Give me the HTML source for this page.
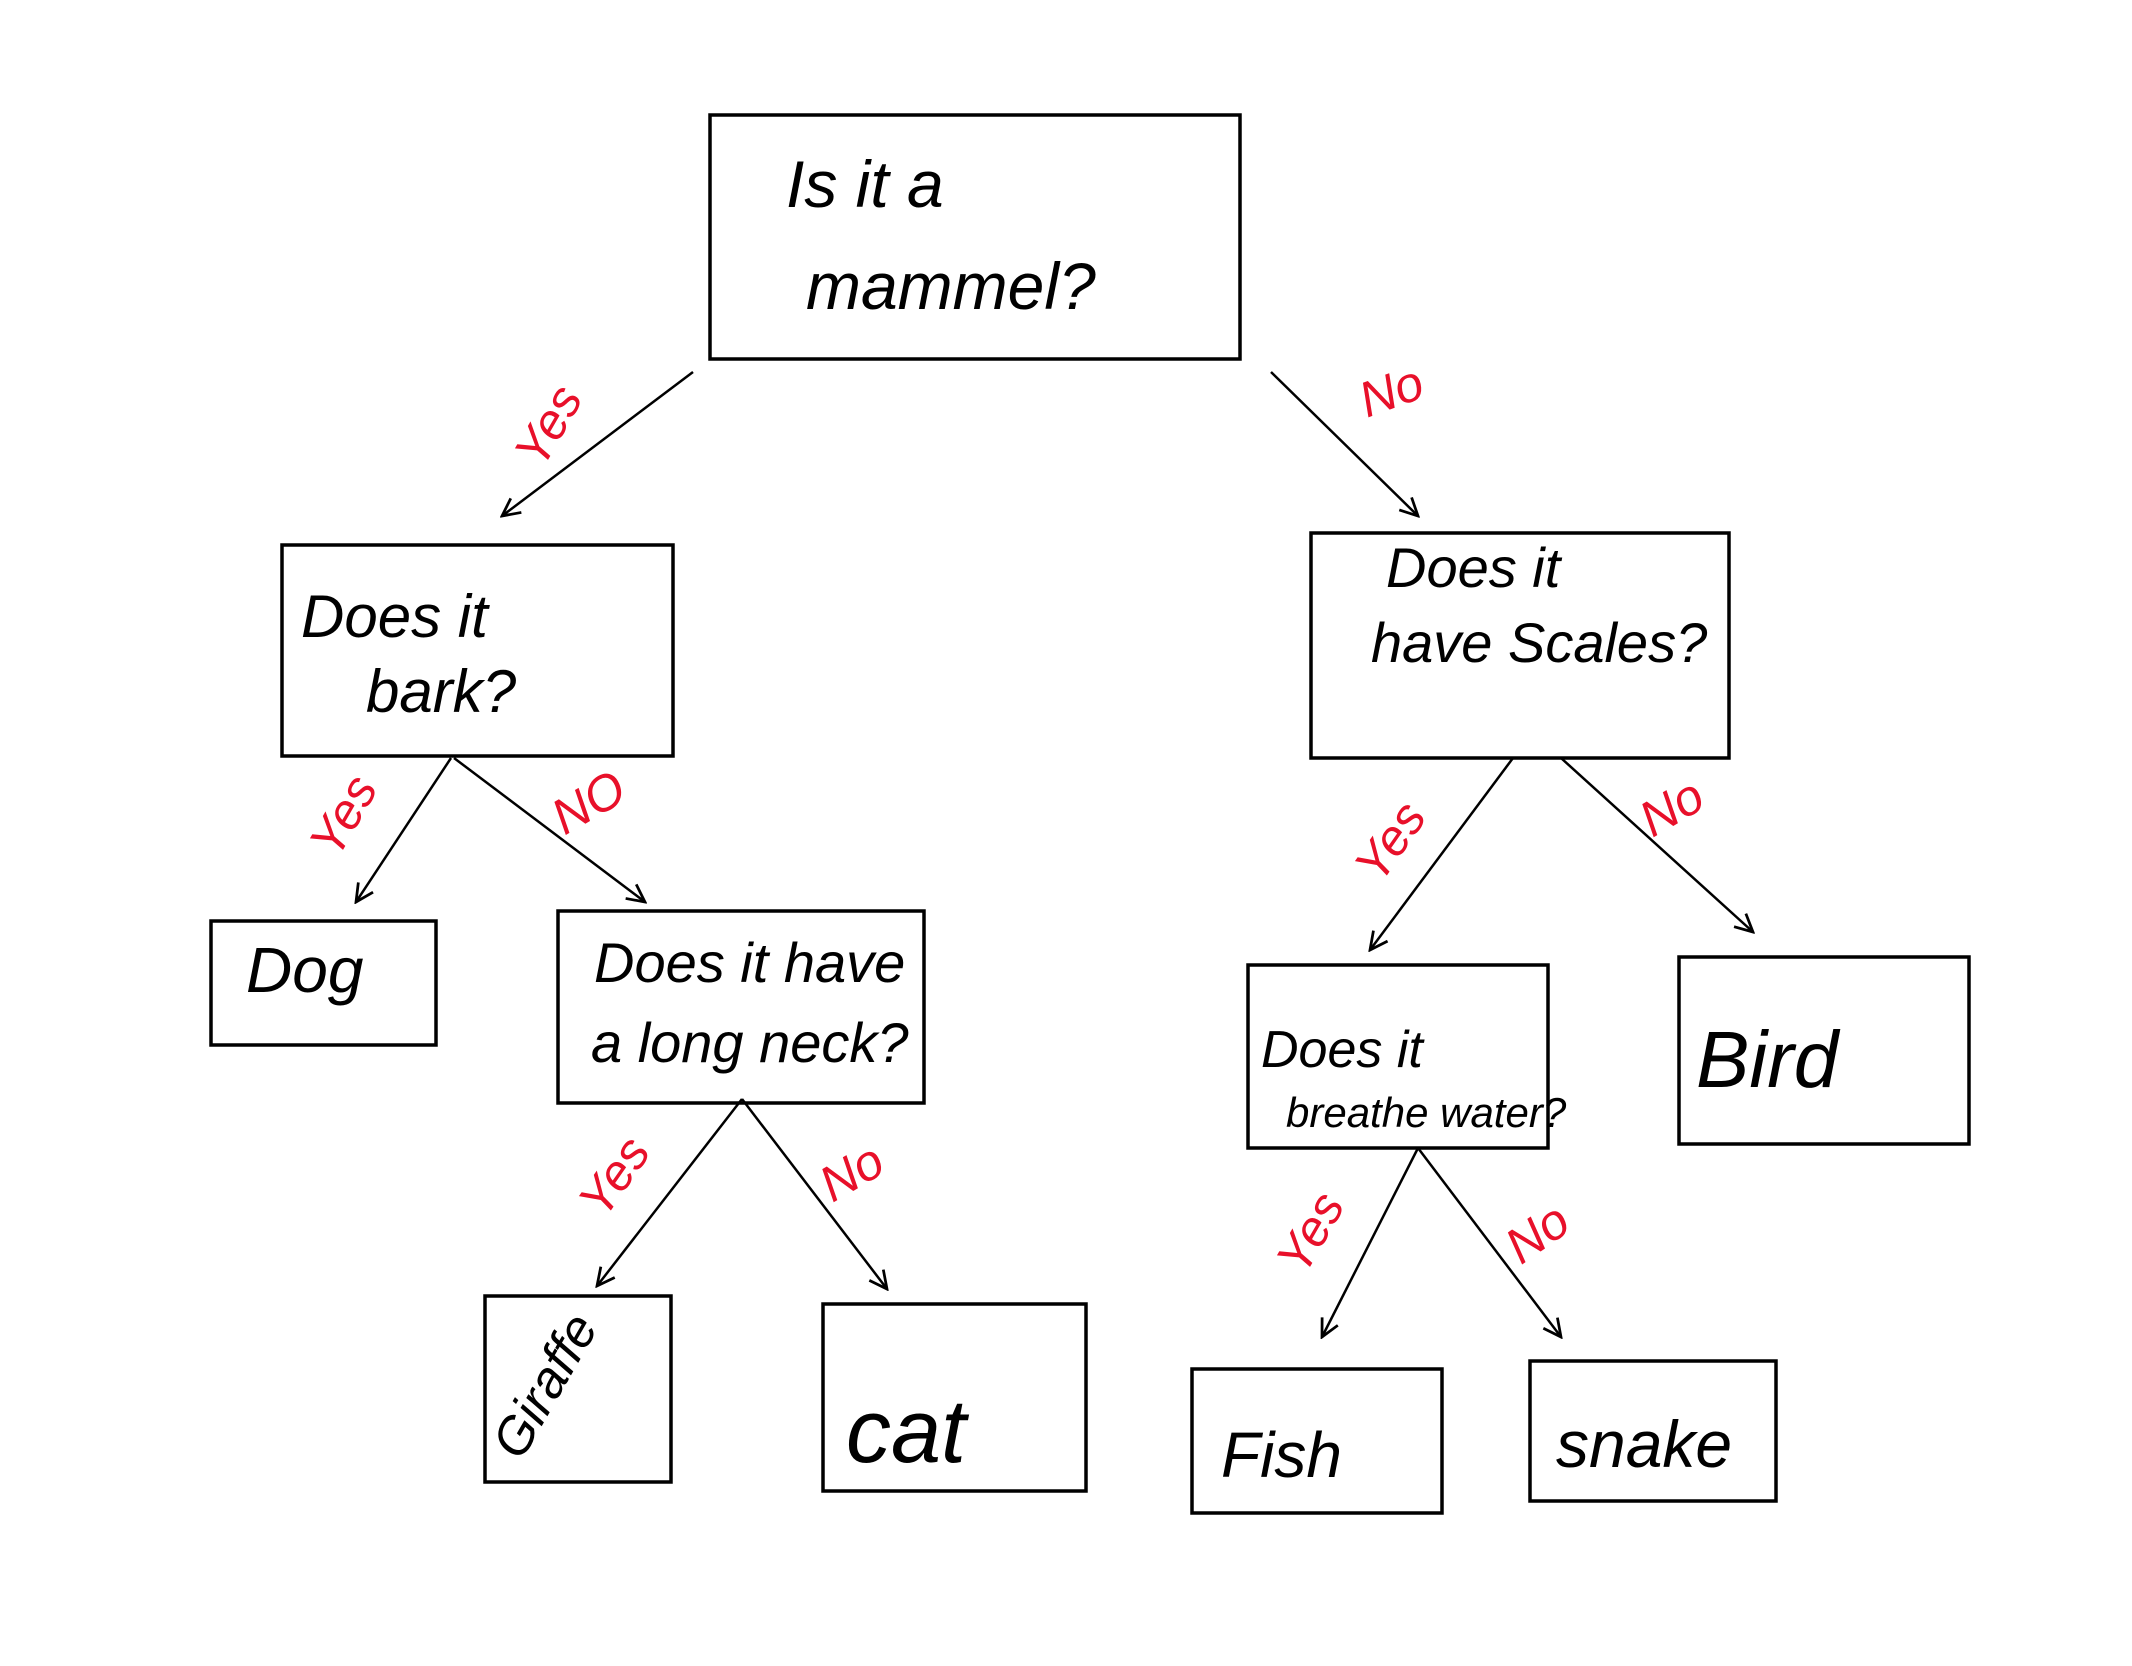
<!DOCTYPE html>
<html><head><style>
html,body{margin:0;padding:0;background:#fff}
svg text{font-family:"Liberation Sans",sans-serif}
</style></head><body>
<svg width="2132" height="1661" viewBox="0 0 2132 1661" xmlns="http://www.w3.org/2000/svg">
<defs><marker id="a" markerWidth="22" markerHeight="22" refX="18" refY="9" orient="auto" markerUnits="userSpaceOnUse" viewBox="0 0 20 18"><path d="M2,1 L18,9 L2,17" fill="none" stroke="#000" stroke-width="2.5"/></marker></defs>
<g transform="translate(-4,-3)">
<g fill="none" stroke="#000" stroke-width="3.5">
<rect x="714" y="118" width="530" height="244"/>
<rect x="286" y="548" width="391" height="211"/>
<rect x="1315" y="536" width="418" height="225"/>
<rect x="215" y="924" width="225" height="124"/>
<rect x="562" y="914" width="366" height="192"/>
<rect x="1252" y="968" width="300" height="183"/>
<rect x="1683" y="960" width="290" height="187"/>
<rect x="489" y="1299" width="186" height="186"/>
<rect x="827" y="1307" width="263" height="187"/>
<rect x="1196" y="1372" width="250" height="144"/>
<rect x="1534" y="1364" width="246" height="140"/>
</g>
<g stroke="#000" stroke-width="2.5" marker-end="url(#a)">
<line x1="697" y1="375" x2="506" y2="519"/>
<line x1="1275" y1="375" x2="1422" y2="519"/>
<line x1="455" y1="761" x2="360" y2="905"/>
<line x1="458" y1="761" x2="649" y2="905"/>
<line x1="1517" y1="761" x2="1374" y2="953"/>
<line x1="1565" y1="761" x2="1757" y2="935"/>
<line x1="746" y1="1102" x2="601" y2="1289"/>
<line x1="746" y1="1102" x2="891" y2="1292"/>
<line x1="1422" y1="1151" x2="1326" y2="1340"/>
<line x1="1422" y1="1151" x2="1565" y2="1340"/>
</g>
<g font-size="66" fill="#000" font-style="italic">
<text x="790" y="210">Is it  a</text>
<text x="810" y="312">mammel?</text>
<text x="305" y="640" font-size="60">Does it</text>
<text x="370" y="715" font-size="60">bark?</text>
<text x="1390" y="590" font-size="56">Does it</text>
<text x="1375" y="665" font-size="56">have Scales?</text>
<text x="250" y="995" font-size="64">Dog</text>
<text x="598" y="985" font-size="56">Does it have</text>
<text x="595" y="1065" font-size="56">a long neck?</text>
<text x="1265" y="1070" font-size="52">Does it</text>
<text x="1290" y="1130" font-size="42">breathe water?</text>
<text x="1700" y="1090" font-size="80">Bird</text>
<text x="525" y="1465" font-size="52" transform="rotate(-60 525 1465)">Giraffe</text>
<text x="850" y="1465" font-size="90">cat</text>
<text x="1225" y="1480" font-size="64">Fish</text>
<text x="1560" y="1470" font-size="66">snake</text>
</g>
<g fill="#e8102a" font-size="50" font-style="italic">
<text x="567" y="437" text-anchor="middle" transform="rotate(-60 567 437)">Yes</text>
<text x="1401" y="410" text-anchor="middle" transform="rotate(-20 1401 410)">No</text>
<text x="362" y="827" text-anchor="middle" transform="rotate(-60 362 827)">Yes</text>
<text x="601" y="820" text-anchor="middle" transform="rotate(-30 601 820)">NO</text>
<text x="1408" y="854" text-anchor="middle" transform="rotate(-55 1408 854)">Yes</text>
<text x="1684" y="825" text-anchor="middle" transform="rotate(-30 1684 825)">No</text>
<text x="632" y="1189" text-anchor="middle" transform="rotate(-55 632 1189)">Yes</text>
<text x="864" y="1190" text-anchor="middle" transform="rotate(-30 864 1190)">No</text>
<text x="1329" y="1244" text-anchor="middle" transform="rotate(-60 1329 1244)">Yes</text>
<text x="1551" y="1250" text-anchor="middle" transform="rotate(-35 1551 1250)">No</text>
</g>
</g>
</svg>
</body></html>
